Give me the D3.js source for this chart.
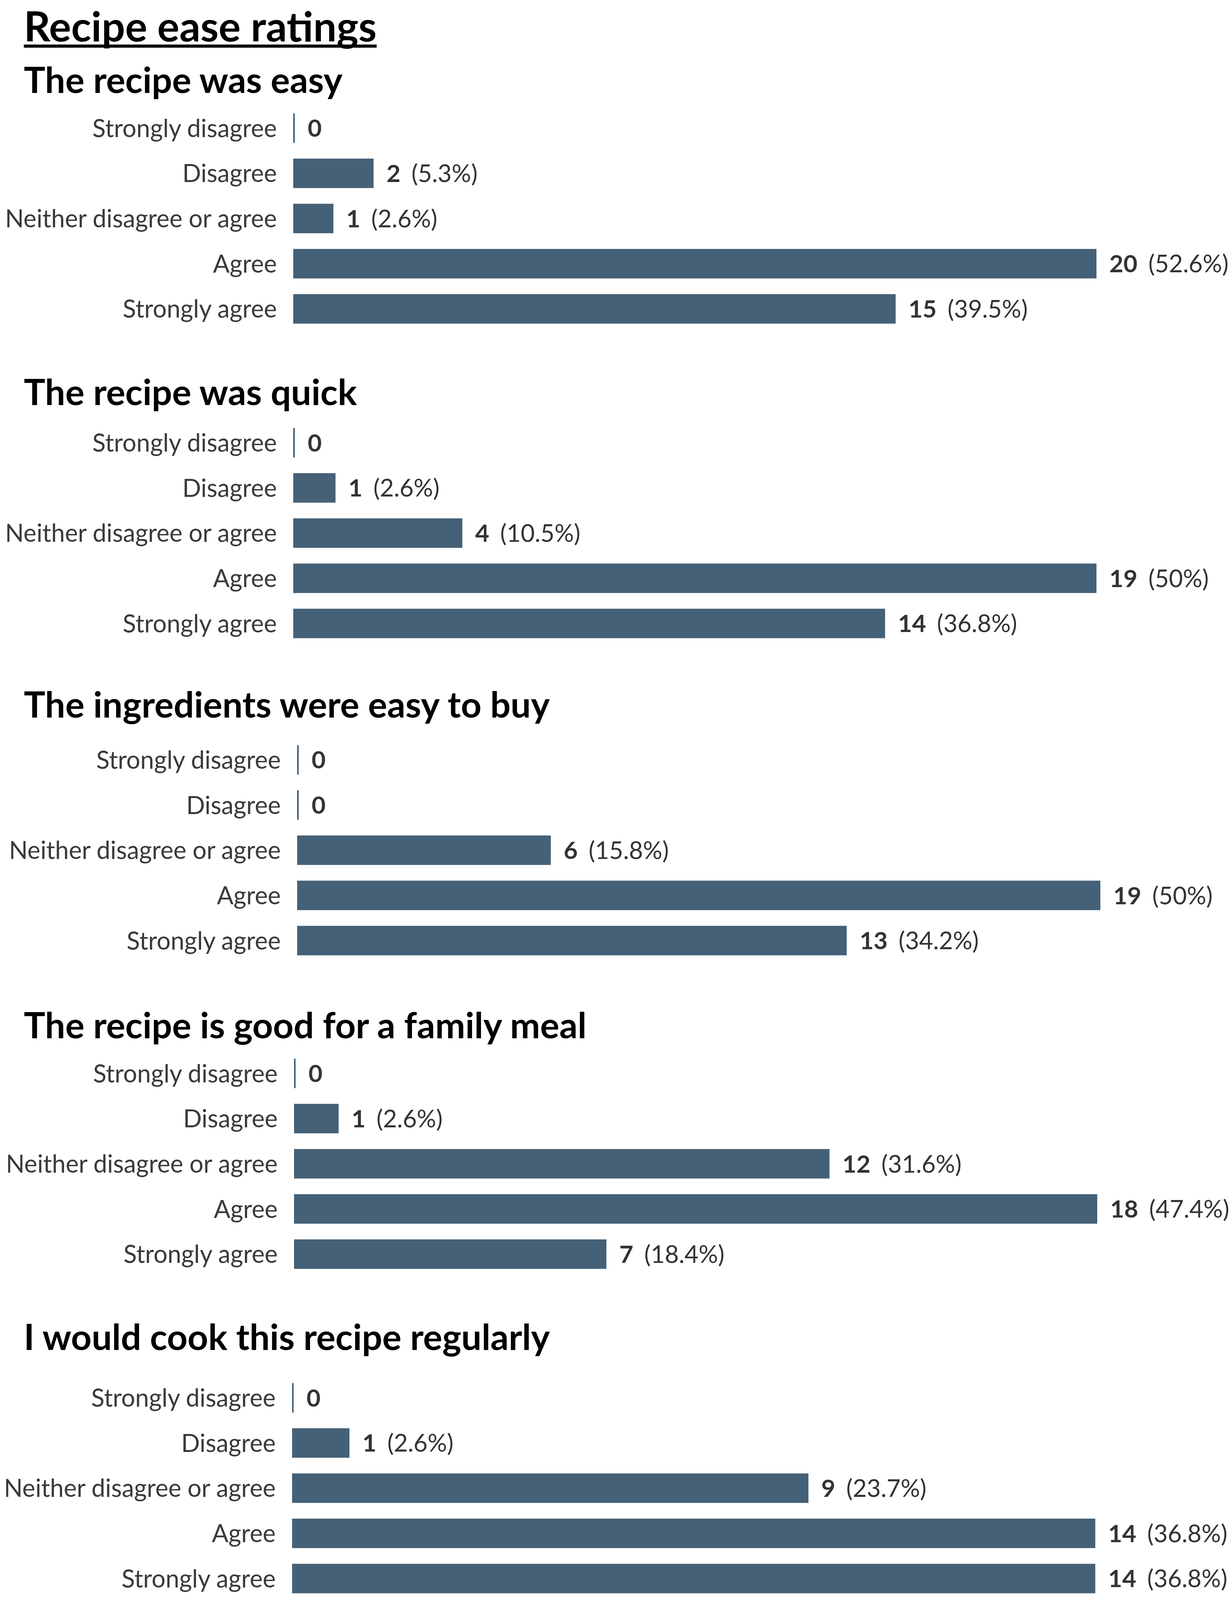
<!DOCTYPE html>
<html>
<head>
<meta charset="utf-8">
<script src="https://cdn.jsdelivr.net/npm/d3@7"></script>
<style>
  body { margin: 0; background: #fff; overflow: hidden; }
  svg { display: block; font-family: Lato, "Noto Sans", sans-serif; }
</style>
</head>
<body>
<div id="chart"></div>
<script>
// Data
const chartTitle = "Recipe ease ratings";
const categories = ["Strongly disagree", "Disagree", "Neither disagree or agree", "Agree", "Strongly agree"];
const questions = [
  "The recipe was easy",
  "The recipe was quick",
  "The ingredients were easy to buy",
  "The recipe is good for a family meal",
  "I would cook this recipe regularly"
];
const easyCounts = [0, 2, 1, 20, 15];
const quickCounts = [0, 1, 4, 19, 14];
const buyCounts = [0, 0, 6, 19, 13];
const familyCounts = [0, 1, 12, 18, 7];
const regularCounts = [0, 1, 9, 14, 14];
const respondents = 38;

const allCounts = [easyCounts, quickCounts, buyCounts, familyCounts, regularCounts];

// Layout (pixels, at full 3150x4720 size) for each panel
const width = 3150;
const height = 4720;
const headingBaselines = [274, 1195, 2117, 3063, 3983];
const firstRowCenters = [378, 1306, 2241.5, 3166.5, 4123.5];
const barStarts = [751, 751, 761, 753, 748];
const maxBarWidth = 2057;
const rowStep = 133.3;
const barHeight = 87;

// the window can be shorter than the chart, squeeze vertical spacing to fit
const sy = Math.min(1, (window.innerHeight || height) / height);

const barColor = "#456177";
const pctFormat = d3.format(".1~f");

const svg = d3.select("#chart").append("svg")
  .attr("width", width)
  .attr("height", Math.floor(height * sy));

svg.append("rect").attr("width", width).attr("height", height).attr("fill", "#fff");

// Main title with underline
const title = svg.append("text")
  .attr("x", 61)
  .attr("y", 106)
  .attr("font-size", 106)
  .attr("font-weight", 700)
  .attr("fill", "#000")
  .text(chartTitle);

const titleWidth = title.node().getComputedTextLength();
svg.append("rect")
  .attr("x", 61)
  .attr("y", 114)
  .attr("width", titleWidth)
  .attr("height", 8)
  .attr("fill", "#000");

questions.forEach((question, i) => {
  const counts = allCounts[i];
  const x0 = barStarts[i];
  const step = rowStep * sy;
  const top = firstRowCenters[i] * sy - step / 2;
  const pad = 1 - barHeight / rowStep;

  const x = d3.scaleLinear()
    .domain([0, d3.max(counts)])
    .range([x0, x0 + maxBarWidth]);

  const y = d3.scaleBand()
    .domain(categories)
    .range([top, top + step * categories.length])
    .paddingInner(pad)
    .paddingOuter(pad / 2);

  const g = svg.append("g").attr("class", "panel");

  g.append("text")
    .attr("x", 61)
    .attr("y", headingBaselines[i] * sy)
    .attr("font-size", 92)
    .attr("font-weight", 700)
    .attr("fill", "#000")
    .text(question);

  const rows = g.selectAll(".row")
    .data(categories.map((c, j) => ({ category: c, value: counts[j] })))
    .join("g")
    .attr("class", "row");

  rows.append("text")
    .attr("x", x0 - 42)
    .attr("y", (d) => y(d.category) + y.bandwidth() / 2)
    .attr("dy", "0.36em")
    .attr("text-anchor", "end")
    .attr("font-size", 63)
    .attr("fill", "#3a3a3a")
    .text((d) => d.category);

  // zero values still get a thin marker line
  rows.append("rect")
    .attr("x", x0)
    .attr("y", (d) => y(d.category))
    .attr("width", (d) => Math.max(4, x(d.value) - x0))
    .attr("height", y.bandwidth())
    .attr("fill", barColor);

  const valueText = rows.append("text")
    .attr("x", (d) => Math.max(x0 + 4, x(d.value)) + 33)
    .attr("y", (d) => y(d.category) + y.bandwidth() / 2)
    .attr("dy", "0.36em")
    .attr("font-size", 62)
    .attr("fill", "#333");

  valueText.append("tspan")
    .attr("font-weight", 700)
    .text((d) => d.value);

  valueText.filter((d) => d.value > 0)
    .append("tspan")
    .attr("dx", 28)
    .text((d) => `(${pctFormat((d.value / respondents) * 100)}%)`);
});
</script>
</body>
</html>
